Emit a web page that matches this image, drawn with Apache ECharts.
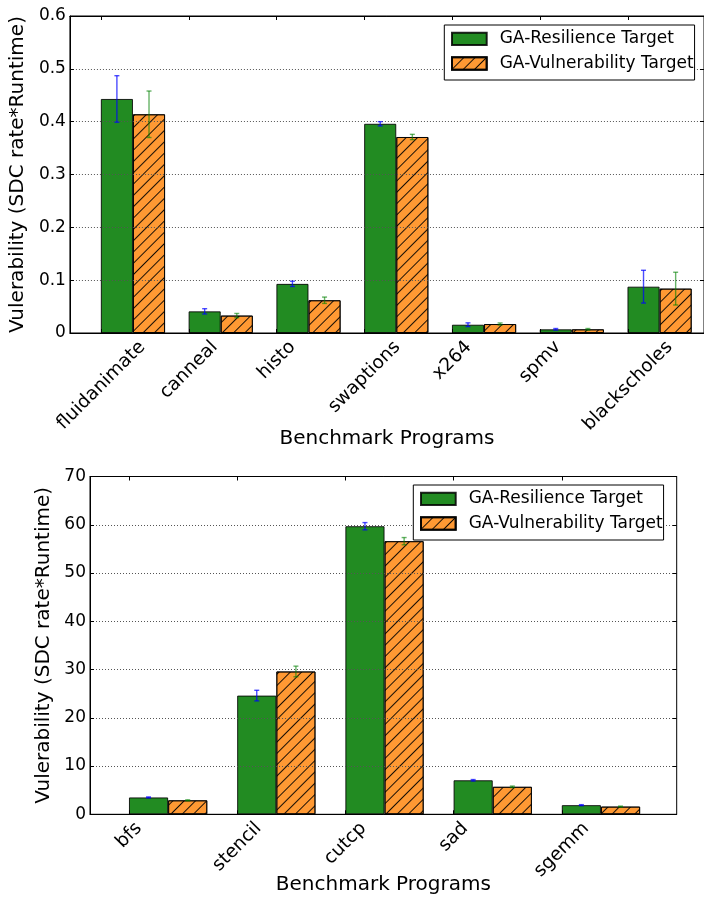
<!DOCTYPE html>
<html>
<head>
<meta charset="utf-8">
<script src="https://cdn.jsdelivr.net/npm/echarts@6/dist/echarts.min.js"></script>
<style>
  html, body { margin: 0; padding: 0; background: #fff; }
  #chart { width: 704px; height: 903px; }
</style>
</head>
<body>
<div id="chart"></div>
<script>
// ---- CPU benchmark programs (upper panel) ----
const cpuPrograms = ['fluidanimate', 'canneal', 'histo', 'swaptions', 'x264', 'spmv', 'blackscholes'];
const cpuResilience = [0.443, 0.041, 0.093, 0.396, 0.0157, 0.007, 0.0877];
const cpuResilienceErr = [0.044, 0.005, 0.005, 0.004, 0.0035, 0.0015, 0.031];
const cpuVulnerability = [0.414, 0.033, 0.062, 0.371, 0.017, 0.007, 0.084];
const cpuVulnerabilityErr = [0.044, 0.004, 0.006, 0.005, 0.002, 0.0015, 0.031];
const cpuYTicks = { min: 0, max: 0.6, step: 0.1 };

// ---- GPU benchmark programs (lower panel) ----
const gpuPrograms = ['bfs', 'stencil', 'cutcp', 'sad', 'sgemm'];
const gpuResilience = [3.5, 24.6, 59.7, 7.05, 1.9];
const gpuResilienceErr = [0.1, 1.1, 0.75, 0.15, 0.1];
const gpuVulnerability = [2.9, 29.6, 56.6, 5.7, 1.6];
const gpuVulnerabilityErr = [0.1, 1.1, 0.75, 0.15, 0.1];
const gpuYTicks = { min: 0, max: 70, step: 10 };

const seriesNames = ['GA-Resilience Target', 'GA-Vulnerability Target'];
const yTitle = 'Vulerability (SDC rate*Runtime)';
const xTitle = 'Benchmark Programs';

// ---- styling / layout ----
const FONT = 'DejaVu Sans';
const GREEN = '#228B22';
const ORANGE = '#FF9933';
const EDGE = 'rgba(0,0,0,0.85)';
const BAR_W = 0.362;              // bar width in category units, bars start at the tick
const LABEL_SIZE = 18.5;
const LABEL_PAD = 4;

const panels = [
  { grid: { left: 66.7, top: 16, width: 641, height: 317 }, xExtent: [-0.356, 6.868],
    cats: cpuPrograms, a: cpuResilience, aErr: cpuResilienceErr, b: cpuVulnerability, bErr: cpuVulnerabilityErr,
    y: cpuYTicks, yNameGap: 33, xNameGap: 96, legend: { left: 444.3, top: 25 } },
  { grid: { left: 90, top: 476.5, width: 586.7, height: 337.8 }, xExtent: [-0.36, 5.062],
    cats: gpuPrograms, a: gpuResilience, aErr: gpuResilienceErr, b: gpuVulnerability, bErr: gpuVulnerabilityErr,
    y: gpuYTicks, yNameGap: 29, xNameGap: 60, legend: { left: 413.3, top: 485 } }
];

const measureCtx = document.createElement('canvas').getContext('2d');
function textWidth(t, size) {
  measureCtx.font = size + 'px "' + FONT + '"';
  return measureCtx.measureText(t).width;
}

// '/' hatching for the second series
const hatch = {
  symbol: 'rect', symbolSize: 1, color: 'rgba(0,0,0,0.9)',
  dashArrayX: [1, 0], dashArrayY: [1, 7], rotation: -Math.PI / 4
};

const grids = [], xAxes = [], yAxes = [], series = [], legends = [];

panels.forEach(function (p, k) {
  grids.push(Object.assign({ show: true, borderColor: '#000', borderWidth: 1, backgroundColor: 'transparent' }, p.grid));
  const idx = p.cats.map(function (_, i) { return i; });
  const barPx = BAR_W * p.grid.width / (p.xExtent[1] - p.xExtent[0]);

  // bottom and top category axes (ticks at the left edge of each bar group)
  xAxes.push({
    type: 'value', gridIndex: k, min: p.xExtent[0], max: p.xExtent[1], position: 'bottom', z: 3,
    axisLine: { show: true, onZero: false, lineStyle: { color: '#000', width: 1 } },
    axisTick: { show: true, inside: true, length: 4, customValues: idx, lineStyle: { color: '#000' } },
    axisLabel: { show: false }, splitLine: { show: false },
    name: xTitle, nameLocation: 'middle', nameGap: p.xNameGap,
    nameTextStyle: { fontFamily: FONT, fontSize: 20, color: '#000' }
  });
  xAxes.push({
    type: 'value', gridIndex: k, min: p.xExtent[0], max: p.xExtent[1], position: 'top', z: 3,
    axisLine: { show: true, onZero: false, lineStyle: { color: '#000', width: 1 } },
    axisTick: { show: true, inside: true, length: 4, customValues: idx, lineStyle: { color: '#000' } },
    axisLabel: { show: false }, splitLine: { show: false }
  });
  yAxes.push({
    type: 'value', gridIndex: k, min: p.y.min, max: p.y.max, interval: p.y.step, position: 'left', z: 3,
    axisLine: { show: true, onZero: false, lineStyle: { color: '#000', width: 1 } },
    axisTick: { show: true, inside: true, length: 4, lineStyle: { color: '#000' } },
    axisLabel: { fontFamily: FONT, fontSize: 17, color: '#000', margin: 4 },
    splitLine: { show: true, lineStyle: { color: '#555', width: 1, type: [1, 2] } },
    name: yTitle, nameLocation: 'middle', nameGap: p.yNameGap,
    nameTextStyle: { fontFamily: FONT, fontSize: 20, color: '#000' }
  });
  yAxes.push({
    type: 'value', gridIndex: k, min: p.y.min, max: p.y.max, interval: p.y.step, position: 'right', z: 3,
    axisLine: { show: false, onZero: false },
    axisTick: { show: true, inside: true, length: 4, lineStyle: { color: '#000' } },
    axisLabel: { show: false }, splitLine: { show: false }
  });

  const xi = 2 * k, yi = 2 * k;
  // grouped bars, centred on the middle of each group
  series.push({
    type: 'bar', name: seriesNames[0], xAxisIndex: xi, yAxisIndex: yi, barWidth: barPx, barGap: '0%', z: 2,
    itemStyle: { color: GREEN, borderColor: EDGE, borderWidth: 1 },
    data: p.a.map(function (v, i) { return [i + BAR_W, v]; })
  });
  series.push({
    type: 'bar', name: seriesNames[1], xAxisIndex: xi, yAxisIndex: yi, barWidth: barPx, barGap: '0%', z: 2,
    itemStyle: { color: ORANGE, borderColor: EDGE, borderWidth: 1, decal: hatch },
    data: p.b.map(function (v, i) { return [i + BAR_W, v]; })
  });

  // error bars
  function errorBars(vals, errs, side, color) {
    return {
      type: 'custom', xAxisIndex: xi, yAxisIndex: yi, z: 6, silent: true, clip: false,
      data: vals.map(function (v, i) { return [i, v - errs[i], v + errs[i]]; }),
      renderItem: function (params, api) {
        const gx = api.value(0) + BAR_W;
        const lo = api.coord([gx, api.value(1)]);
        const hi = api.coord([gx, api.value(2)]);
        const cx = lo[0] + side * barPx / 2;
        const cap = 2.5;
        const st = { stroke: color, lineWidth: 1.4, fill: null };
        return {
          type: 'group', children: [
            { type: 'line', shape: { x1: cx, y1: lo[1], x2: cx, y2: hi[1] }, style: st },
            { type: 'line', shape: { x1: cx - cap, y1: lo[1], x2: cx + cap, y2: lo[1] }, style: st },
            { type: 'line', shape: { x1: cx - cap, y1: hi[1], x2: cx + cap, y2: hi[1] }, style: st }
          ]
        };
      }
    };
  }
  series.push(errorBars(p.a, p.aErr, -1, 'rgba(0,0,255,0.7)'));
  series.push(errorBars(p.b, p.bErr, 1, 'rgba(0,128,0,0.6)'));

  // rotated program names, bounding box centred under each tick
  series.push({
    type: 'custom', xAxisIndex: xi, yAxisIndex: yi, z: 6, silent: true, clip: false,
    data: idx.map(function (i) { return [i, p.y.min]; }),
    renderItem: function (params, api) {
      const i = api.value(0);
      const pt = api.coord([i, api.value(1)]);
      const label = p.cats[i];
      const L = textWidth(label, LABEL_SIZE);
      const h = LABEL_SIZE * 1.1;
      const half = (L + h) * Math.SQRT1_2 / 2;
      return {
        type: 'text', x: pt[0], y: pt[1] + LABEL_PAD + half, rotation: Math.PI / 4,
        style: { text: label, fontFamily: FONT, fontSize: LABEL_SIZE, fill: '#000', align: 'center', verticalAlign: 'middle' }
      };
    }
  });

  legends.push({
    left: p.legend.left, top: p.legend.top, orient: 'vertical', data: seriesNames, icon: 'rect',
    itemWidth: 34.7, itemHeight: 12.3, itemGap: 7.6, padding: [5.4, 1, 8, 6.7],
    borderColor: '#000', borderWidth: 1, backgroundColor: '#fff', selectedMode: false, z: 8,
    textStyle: { fontFamily: FONT, fontSize: 17, color: '#000', lineHeight: 17, padding: [0, 0, 0, 8] }
  });
});

const chart = echarts.init(document.getElementById('chart'), null, { renderer: 'canvas' });
chart.setOption({
  animation: false,
  backgroundColor: '#fff',
  textStyle: { fontFamily: FONT },
  grid: grids, xAxis: xAxes, yAxis: yAxes, legend: legends, series: series
});
</script>
</body>
</html>
